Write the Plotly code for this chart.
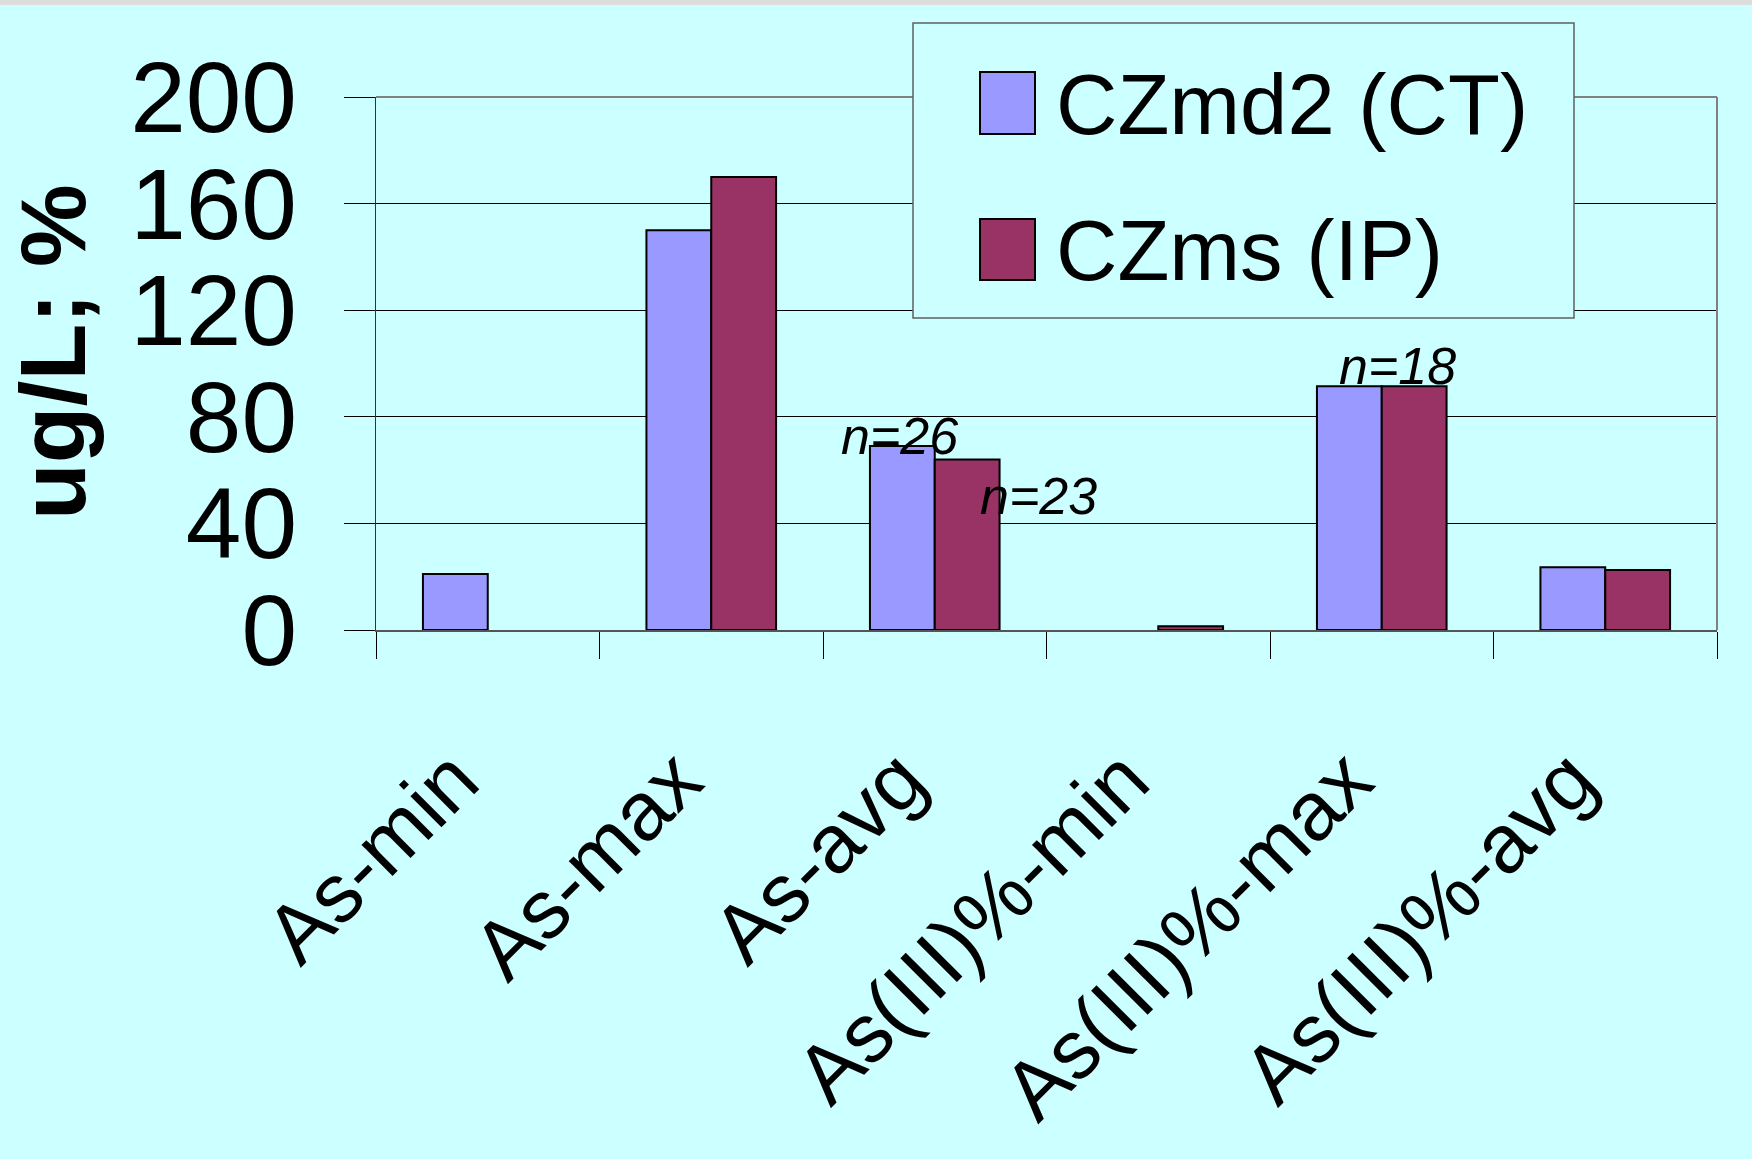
import plotly.graph_objects as go

# --- data -------------------------------------------------------------
categories = ["As-min", "As-max", "As-avg", "As(III)%-min", "As(III)%-max", "As(III)%-avg"]
series_names = ["CZmd2 (CT)", "CZms (IP)"]
czmd2_values = [21, 150, 69, None, 91.5, 23.5]
czms_values = [None, 170, 64, 1.4, 91.5, 22.5]
series_colors = ["#9999FF", "#993366"]

y_ticks = [0, 40, 80, 120, 160, 200]
y_title = "ug/L; %"

# sample-count notes: (category, series index, text, x offset px, y offset px)
sample_notes = [
    ("As-avg", 0, "n=26", -35, 10),
    ("As-avg", 1, "n=23", 104, -37),
    ("As(III)%-max", 0, "n=18", 16, 20),
]

# --- page geometry (pixels) --------------------------------------------
W, H = 1752, 1159
L, R, T, B = 376, 1717, 97, 630
BG = "#CCFFFF"
FONT = "Liberation Sans, Arial, sans-serif"


def px_x(p):
    return (p - L) / (R - L)


def px_y(p):
    return (B - p) / (B - T)


series_values = [czmd2_values, czms_values]

fig = go.Figure()
for name, vals, col in zip(series_names, series_values, series_colors):
    fig.add_trace(go.Bar(
        x=categories, y=vals, name=name,
        marker=dict(color=col, line=dict(color="#000000", width=2)),
        showlegend=False,
    ))

# value notes above / beside the bars
for cat, si, txt, dx, dy in sample_notes:
    val = series_values[si][categories.index(cat)]
    fig.add_annotation(
        x=cat, y=val, xref="x", yref="y",
        text=f"<i>{txt}</i>", showarrow=False,
        xanchor="center", yanchor="middle", xshift=dx, yshift=dy,
        font=dict(family=FONT, size=52, color="#000000"),
    )

# y axis title
fig.add_annotation(
    x=px_x(53), y=px_y(352), xref="paper", yref="paper",
    text=f"<b>{y_title}</b>", textangle=-90, showarrow=False,
    xanchor="center", yanchor="middle",
    font=dict(family=FONT, size=93, color="#000000"),
)

shapes = []
# thin grey strip across the top of the page
shapes.append(dict(type="rect", xref="paper", yref="paper",
                   x0=px_x(0), x1=px_x(W), y0=px_y(5), y1=px_y(0),
                   fillcolor="#DDDDDD", line=dict(width=0), layer="below"))
# grey frame on top and right of the plot area
shapes.append(dict(type="line", xref="paper", yref="paper",
                   x0=0, x1=1, y0=1, y1=1, line=dict(color="#808080", width=2)))
shapes.append(dict(type="line", xref="paper", yref="paper",
                   x0=1, x1=1, y0=0, y1=1, line=dict(color="#808080", width=2)))

# legend box
shapes.append(dict(type="rect", xref="paper", yref="paper",
                   x0=px_x(913), x1=px_x(1574), y0=px_y(318), y1=px_y(23),
                   fillcolor=BG, line=dict(color="#606060", width=1.5)))
legend_rows = [(72, 134, 104), (219, 280, 250)]
for (top, bot, mid), name, col in zip(legend_rows, series_names, series_colors):
    shapes.append(dict(type="rect", xref="paper", yref="paper",
                       x0=px_x(980), x1=px_x(1035), y0=px_y(bot), y1=px_y(top),
                       fillcolor=col, line=dict(color="#000000", width=2)))
    fig.add_annotation(
        x=px_x(1054), y=px_y(mid), xref="paper", yref="paper",
        text=name, showarrow=False, xanchor="left", yanchor="middle",
        font=dict(family=FONT, size=85, color="#000000"),
    )

fig.update_layout(
    width=W, height=H,
    margin=dict(l=L, r=W - R, t=T, b=H - B, pad=0),
    paper_bgcolor=BG, plot_bgcolor=BG,
    barmode="group", bargap=0.42, bargroupgap=0,
    shapes=shapes,
    font=dict(family=FONT, color="#000000"),
)

fig.update_xaxes(
    type="category", categoryorder="array", categoryarray=categories,
    range=[-0.5, len(categories) - 0.5],
    showgrid=False, zeroline=False,
    showline=True, linecolor="#555555", linewidth=2,
    ticks="outside", tickson="boundaries", ticklen=27, tickwidth=1, tickcolor="#000000",
    tickangle=-45, tickfont=dict(family=FONT, size=83, color="#000000"),
    ticklabelstandoff=66, ticklabelshift=-34,
)
fig.update_yaxes(
    range=[0, 200], tickvals=y_ticks, ticktext=[str(v) for v in y_ticks],
    showgrid=True, gridcolor="#000000", gridwidth=1, zeroline=False,
    showline=True, linecolor="#333333", linewidth=1,
    ticks="outside", ticklen=31, tickwidth=1, tickcolor="#000000",
    tickfont=dict(family=FONT, size=100, color="#000000"),
    ticklabelstandoff=27,
)

fig.write_html("out.html")
